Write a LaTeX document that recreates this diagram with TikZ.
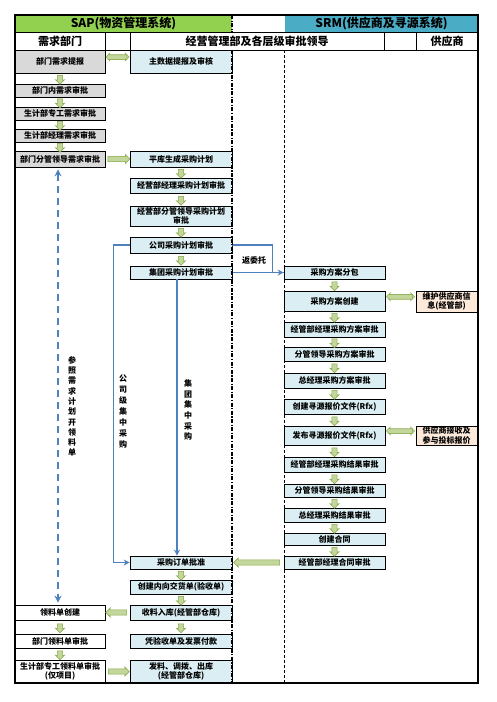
\documentclass[tikz,border=0pt]{standalone}
\usepackage{fontspec}
\newfontfamily\cjk{Noto Sans CJK SC}
\usetikzlibrary{shapes.arrows,arrows.meta}
\definecolor{gfill}{HTML}{C3D69B}
\definecolor{gline}{HTML}{86A845}
\definecolor{gray1}{HTML}{D9D9D9}
\definecolor{blue1}{HTML}{DAEEF3}
\definecolor{peach}{HTML}{FDE9D9}
\definecolor{hgreen}{HTML}{92D050}
\definecolor{hcyan}{HTML}{4BACC6}
\definecolor{bblue}{HTML}{4F81BD}
\newcommand\bx[7]{\node[box,fill=#6,minimum width={(#4-#2)*1pt},minimum height={(#5-#3)*1pt}] (#1) at ({(#2+#4)/2},{(#3+#5)/2}) {#7};}
\newcommand\dar[2]{\path (#1.south) -- node[garr,rotate=-90,minimum height=9pt] {} (#2.north);}
\begin{document}
\begin{tikzpicture}[x=1pt,y=-1pt,
  box/.style={draw=black,line width=0.6pt,font=\cjk\bfseries\fontsize{8}{9.5}\selectfont,align=center,inner sep=0pt},
  garr/.style={single arrow,draw=gline,fill=gfill,line width=0.5pt,inner xsep=0pt,inner ysep=2.4pt,minimum width=0pt,single arrow head extend=2pt,single arrow head indent=0.5pt},
  harr/.style={single arrow,draw=gline,fill=gfill,line width=0.5pt,inner xsep=0pt,inner ysep=2pt,minimum width=0pt,single arrow head extend=1.6pt,single arrow head indent=0.5pt},
  bl/.style={draw=bblue,line width=1.3pt},
  bd/.style={draw=bblue,line width=2pt,dash pattern=on 7pt off 5pt},
  hd/.style={font=\cjk\bfseries\fontsize{12}{14}\selectfont},
  sh/.style={font=\cjk\bfseries\fontsize{11}{13}\selectfont},
  lab/.style={font=\cjk\bfseries\fontsize{8}{10}\selectfont,align=center,inner sep=0pt},
  ddl/.style={line width=1.4pt,dash pattern=on 4pt off 1.5pt on 1.2pt off 1.5pt},
  tdl/.style={line width=0.5pt,dash pattern=on 3pt off 2pt}]
\useasboundingbox (0,0) rectangle (496,702);
\fill[white] (0,0) rectangle (496,702);
% header
\fill[hgreen] (15,15) rectangle (232,32);
\fill[hcyan] (285,15) rectangle (478,32);
\node[hd] (hsap) at (123.5,23.5) {SAP(物资管理系统)};
\node[hd] (hsrm) at (381.5,23.5) {SRM(供应商及寻源系统)};
\draw[line width=0.8pt] (15,32) -- (478,32);
\draw[line width=1pt] (15,50) -- (478,50);
\foreach \xx in {105,130,384,416} \draw[line width=0.8pt] (\xx,32) -- (\xx,50);
\node[sh] (h1) at (60,41) {需求部门};
\node[sh] (h2) at (257,41) {经营管理部及各层级审批领导};
\node[sh] (h3) at (447,41) {供应商};
% left column
\bx{r1}{15}{50}{105}{73}{gray1}{部门需求提报}
\bx{r2}{15}{84}{105}{97}{gray1}{部门内需求审批}
\bx{r3}{15}{107}{105}{120}{gray1}{生计部专工需求审批}
\bx{r4}{15}{129}{105}{142}{gray1}{生计部经理需求审批}
\bx{r5}{15}{151}{105}{167}{gray1}{部门分管领导需求审批}
% middle column
\bx{m0}{130}{50}{232}{73}{blue1}{主数据提报及审核}
\bx{m1}{130}{151}{232}{167}{blue1}{平库生成采购计划}
\bx{m2}{130}{178}{232}{193}{blue1}{经营部经理采购计划审批}
\bx{m3}{130}{206}{232}{226}{blue1}{经营部分管领导采购计划\\审批}
\bx{m4}{130}{237}{232}{253}{blue1}{公司采购计划审批}
\bx{m5}{130}{266}{232}{279}{blue1}{集团采购计划审批}
% SRM column
\bx{s1}{284}{266}{385}{279}{blue1}{采购方案分包}
\bx{s2}{284}{291}{385}{311}{blue1}{采购方案创建}
\bx{s3}{284}{322}{385}{337}{blue1}{经管部经理采购方案审批}
\bx{s4}{284}{347}{385}{361}{blue1}{分管领导采购方案审批}
\bx{s5}{284}{373}{385}{388}{blue1}{总经理采购方案审批}
\bx{s6}{284}{399}{385}{414}{blue1}{创建寻源报价文件(Rfx)}
\bx{s7}{284}{426}{385}{445}{blue1}{发布寻源报价文件(Rfx)}
\bx{s8}{284}{457}{385}{472}{blue1}{经管部经理采购结果审批}
\bx{s9}{284}{484}{385}{497}{blue1}{分管领导采购结果审批}
\bx{s10}{284}{508}{385}{522}{blue1}{总经理采购结果审批}
\bx{s11}{284}{533}{385}{545}{blue1}{创建合同}
\bx{s12}{284}{556}{385}{569}{blue1}{经管部经理合同审批}
% supplier
\bx{v1}{416}{291}{477}{312}{peach}{维护供应商信\\息(经管部)}
\bx{v2}{416}{426}{477}{445}{peach}{供应商接收及\\参与投标报价}
% bottom middle
\bx{b1}{130}{556}{232}{569}{blue1}{采购订单批准}
\bx{b2}{130}{580}{232}{594}{blue1}{创建内向交货单(验收单)}
\bx{b3}{130}{605}{232}{620}{blue1}{收料入库(经管部仓库)}
\bx{b4}{130}{634}{232}{648}{blue1}{凭验收单及发票付款}
\bx{b5}{130}{660}{232}{683}{blue1}{发料、调拨、出库\\(经管部仓库)}
% bottom left
\bx{l1}{15}{605}{105}{620}{white}{领料单创建}
\bx{l2}{15}{634}{105}{648}{white}{部门领料单审批}
\bx{l3}{15}{660}{105}{683}{white}{生计部专工领料单审批\\(仅项目)}
% green down arrows
\dar{r1}{r2}\dar{r2}{r3}\dar{r3}{r4}\dar{r4}{r5}
\dar{m1}{m2}\dar{m2}{m3}\dar{m3}{m4}\dar{m4}{m5}
\dar{s1}{s2}\dar{s2}{s3}\dar{s3}{s4}\dar{s4}{s5}\dar{s5}{s6}\dar{s6}{s7}
\dar{s7}{s8}\dar{s8}{s9}\dar{s9}{s10}\dar{s10}{s11}\dar{s11}{s12}
\dar{b1}{b2}\dar{b2}{b3}\dar{b3}{b4}
\dar{l1}{l2}\dar{l2}{l3}
% green horizontal arrows
\path (r1.east) -- node[harr,minimum height=21pt,yshift=4.5pt] {} node[harr,rotate=180,minimum height=21pt,yshift=-4.5pt] {} (m0.west);
\path (s2.east) -- node[harr,minimum height=26pt,yshift=4.5pt] {} node[harr,rotate=180,minimum height=26pt,yshift=-4.5pt] {} (v1.west);
\path (s7.east) -- node[harr,minimum height=26pt,yshift=4.5pt] {} node[harr,rotate=180,minimum height=26pt,yshift=-4.5pt] {} (v2.west);
\path (r5.east) -- node[garr,minimum height=22pt] {} (m1.west);
\path (s12.west) -- node[garr,rotate=180,minimum height=46pt] {} (b1.east);
\path (b3.west) -- node[garr,rotate=180,minimum height=21pt] {} (l1.east);
\path (l3.east) -- node[garr,minimum height=21pt] {} (b5.west);
% blue connectors
\draw[bl,-{Stealth[length=6pt,width=6pt]}] (m4.west) -- ++(-16,0) |- (b1.west);
\draw[bl,-{Stealth[length=6pt,width=6pt]}] ([xshift=-4pt]m5.south) -- ([xshift=-4pt]b1.north);
\draw[bl] (m4.east) -- ++(40,0) |- (s1.west);
\draw[bl,-{Stealth[length=6pt,width=6pt]}] (m5.east) -- (s1.west);
\draw[bd,{Stealth[length=7pt,width=7pt]}-{Stealth[length=7pt,width=7pt]}] ([xshift=-2pt,yshift=-2pt]r5.south) -- ([xshift=-2pt,yshift=2pt]l1.north);
% labels
\node[lab] (t0) at (254,260) {返委托};
\node[lab,font=\cjk\bfseries\fontsize{8}{10.3}\selectfont] (t1) at (72,406.5) {参\\照\\需\\求\\计\\划\\开\\领\\料\\单};
\node[lab,font=\cjk\bfseries\fontsize{8}{11}\selectfont] (t2) at (123,411.5) {公\\司\\级\\集\\中\\采\\购};
\node[lab,font=\cjk\bfseries\fontsize{8}{10.7}\selectfont] (t3) at (188,410) {集\\团\\集\\中\\采\\购};
% dividers and frame
\draw[ddl] (232,15) -- (232,32);
\draw[ddl] (232,50) -- (232,683);
\draw[tdl] (284.5,50) -- (284.5,683);
\draw[line width=1.3pt] (15,15) rectangle (478,683);
\end{tikzpicture}
\end{document}
